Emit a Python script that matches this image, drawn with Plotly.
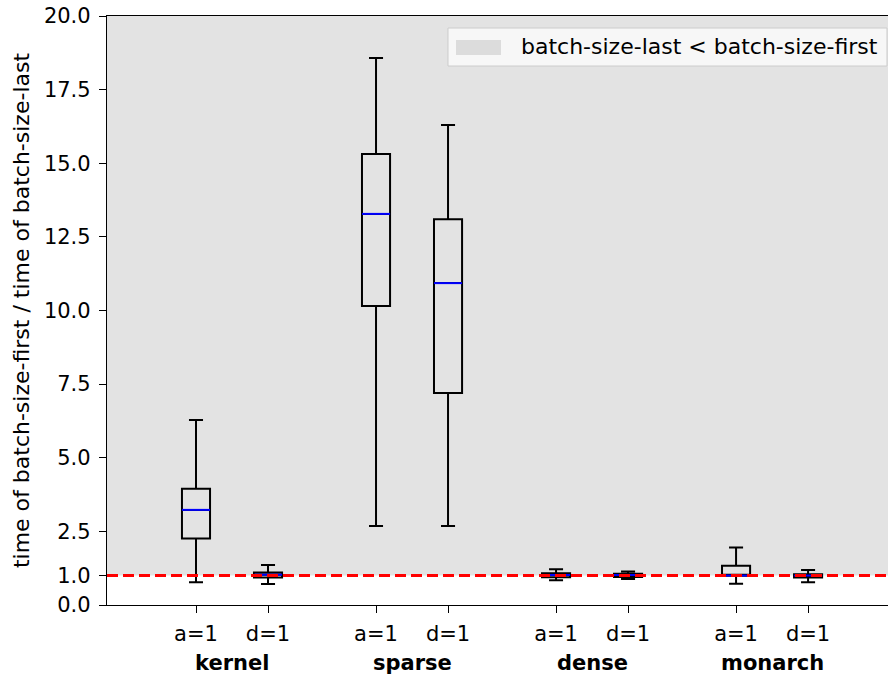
import plotly.graph_objects as go

# Box statistics per method / configuration
methods = ["kernel", "sparse", "dense", "monarch"]
configs = ["a=1", "d=1"]
positions = [1, 2, 3.5, 4.5, 6, 7, 8.5, 9.5]
tick_text = ["a=1", "d=1"] * 4
group_centers = [1.5, 4.0, 6.5, 9.0]

lower_whisker = [0.77, 0.71, 2.68, 2.68, 0.84, 0.88, 0.72, 0.77]
q1 = [2.26, 0.93, 10.15, 7.20, 0.94, 0.95, 0.99, 0.93]
median = [3.23, 1.03, 13.28, 10.93, 1.02, 1.02, 1.00, 1.00]
q3 = [3.95, 1.10, 15.31, 13.10, 1.08, 1.06, 1.33, 1.04]
upper_whisker = [6.28, 1.36, 18.57, 16.30, 1.21, 1.14, 1.95, 1.19]

y_ticks = [0.0, 1.0, 2.5, 5.0, 7.5, 10.0, 12.5, 15.0, 17.5, 20.0]
threshold = 1.0
y_max = 20.0
x_range = [-0.236, 10.61]
box_width = 0.39
band_label = "batch-size-last < batch-size-first"

FONT = "DejaVu Sans"
FS = 21
BAND = "#e3e3e3"

fig = go.Figure()

# shaded band where batch-size-last is faster
fig.add_shape(
    type="rect", xref="x domain", yref="y", x0=0, x1=1,
    y0=threshold, y1=y_max, fillcolor=BAND, line=dict(width=0),
    layer="below",
)

fig.add_trace(go.Box(
    x=positions, q1=q1, median=median, q3=q3,
    lowerfence=lower_whisker, upperfence=upper_whisker,
    width=box_width, whiskerwidth=0.5,
    line=dict(color="black", width=2),
    fillcolor="rgba(0,0,0,0)",
    boxpoints=False, showlegend=False, hoverinfo="skip",
))

# blue median segments on top of the boxes
mx, my = [], []
for p, m in zip(positions, median):
    mx += [p - box_width / 2, p + box_width / 2, None]
    my += [m, m, None]
fig.add_trace(go.Scatter(
    x=mx, y=my, mode="lines", line=dict(color="blue", width=2),
    showlegend=False, hoverinfo="skip",
))

# reference line at ratio 1
fig.add_trace(go.Scatter(
    x=x_range, y=[threshold, threshold], mode="lines",
    line=dict(color="red", width=3, dash="11px,5px"),
    showlegend=False, hoverinfo="skip",
))

# legend box drawn in paper coordinates: frame, patch, label
fig.add_shape(
    type="rect", xref="paper", yref="paper", x0=0.4366, x1=0.9987,
    y0=0.9151, y1=0.9796, fillcolor="rgba(250,250,250,0.85)",
    line=dict(color="#cccccc", width=1), layer="above",
)
fig.add_shape(
    type="rect", xref="paper", yref="paper", x0=0.4469, x1=0.5045,
    y0=0.9338, y1=0.9593, fillcolor="#dcdcdc", line=dict(width=0),
    layer="above",
)
fig.add_annotation(
    x=0.5275, y=0.9474, xref="paper", yref="paper", xanchor="left",
    yanchor="middle", text=band_label, showarrow=False,
    font=dict(family=FONT, size=22, color="black"),
)

for c, name in zip(group_centers, methods):
    fig.add_annotation(
        x=c, y=0, xref="x", yref="paper", yshift=-72,
        text=f"<b>{name}</b>", showarrow=False,
        font=dict(family=FONT, size=FS, color="black"),
    )

fig.update_layout(
    width=888, height=677,
    margin=dict(l=107, r=0, t=16, b=72),
    paper_bgcolor="white", plot_bgcolor="white",
    font=dict(family=FONT, size=FS, color="black"),
    showlegend=False,
    xaxis=dict(
        range=x_range, tickmode="array", tickvals=positions, ticktext=tick_text,
        showgrid=False, zeroline=False, showline=True, linecolor="black",
        linewidth=1.3, mirror=True, ticks="outside", ticklen=7,
        tickcolor="black", tickwidth=1.3, tickfont=dict(family=FONT, size=FS),
        ticklabelstandoff=3,
    ),
    yaxis=dict(
        range=[0, y_max], tickmode="array", tickvals=y_ticks,
        ticktext=[f"{v:.1f}" for v in y_ticks],
        showgrid=False, zeroline=False, showline=True, linecolor="black",
        linewidth=1.3, ticks="outside", ticklen=7, tickcolor="black",
        tickwidth=1.3, tickfont=dict(family=FONT, size=FS),
        ticklabelstandoff=4,
        title=dict(text="time of batch-size-first / time of batch-size-last",
                   font=dict(family=FONT, size=22), standoff=8),
    ),
)

fig.write_html("out.html")
